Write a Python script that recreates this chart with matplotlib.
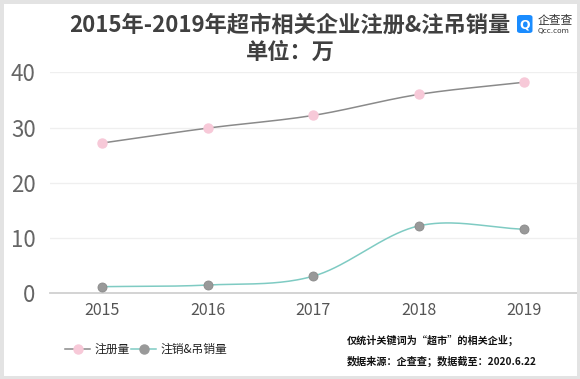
import numpy as np
import matplotlib
matplotlib.use("Agg")
import matplotlib.pyplot as plt
from matplotlib.patches import Rectangle, FancyBboxPatch

plt.rcParams['font.family'] = ['Noto Sans CJK SC', 'DejaVu Sans']

years = ["2015", "2016", "2017", "2018", "2019"]
registered = [27.2, 29.9, 32.2, 36.0, 38.2]
cancelled = [1.2, 1.5, 3.1, 12.2, 11.6]
yticks = [0, 10, 20, 30, 40]
title = "2015年-2019年超市相关企业注册&注吊销量"
subtitle = "单位：万"
legend_labels = ["注册量", "注销&吊销量"]
notes = ["仅统计关键词为“超市”的相关企业；", "数据来源：企查查；数据截至：2020.6.22"]


def smooth(xs, ys, n=40):
    xs = np.asarray(xs, float)
    ys = np.asarray(ys, float)
    m = np.zeros_like(ys)
    m[0] = ys[1] - ys[0]
    m[-1] = ys[-1] - ys[-2]
    m[1:-1] = (ys[2:] - ys[:-2]) / 2.0
    ox, oy = [], []
    for i in range(len(xs) - 1):
        t = np.linspace(0, 1, n)
        h00 = 2 * t**3 - 3 * t**2 + 1
        h10 = t**3 - 2 * t**2 + t
        h01 = -2 * t**3 + 3 * t**2
        h11 = t**3 - t**2
        oy.extend(h00 * ys[i] + h10 * m[i] + h01 * ys[i + 1] + h11 * m[i + 1])
        ox.extend(xs[i] + t * (xs[i + 1] - xs[i]))
    return np.array(ox), np.array(oy)


W, H = 580, 379
fig = plt.figure(figsize=(W / 100, H / 100), dpi=100)
fig.patch.set_facecolor("white")
# outer frame
fig.add_artist(Rectangle((0, 0), 1, 1, transform=fig.transFigure, facecolor="none",
                         edgecolor="#e3e3e3", linewidth=5))

ax = fig.add_axes([49.5 / W, (H - 293.3) / H, (577 - 49.5) / W, (293.3 - 72.3) / H])
x = np.arange(len(years))

sx, sy = smooth(x, registered)
ax.plot(sx, sy, color="#8a8a8a", lw=1.1, zorder=3)
ax.plot(x, registered, linestyle="none", marker="o", ms=6.5, mfc="#f7c9d8", mec="#f7c9d8", zorder=4)

sx2, sy2 = smooth(x, cancelled)
ax.plot(sx2, sy2, color="#7fcbc3", lw=1.1, zorder=3)
ax.plot(x, cancelled, linestyle="none", marker="o", ms=6.5, mfc="#999999", mec="#8a8a8a", mew=0.6, zorder=4)

ax.set_xlim(-0.5, len(years) - 0.5)
ax.set_ylim(0, 40)
ax.set_yticks(yticks)
ax.set_yticklabels([str(v) for v in yticks], fontsize=16, color="#666666")
ax.set_xticks(x)
ax.set_xticklabels(years, fontsize=11.5, color="#555555")
ax.tick_params(axis="both", length=0)
ax.tick_params(axis="y", pad=10)
ax.tick_params(axis="x", pad=6)
ax.grid(axis="y", color="#efefef", lw=0.9)
ax.set_axisbelow(True)
for s in ["top", "right", "left"]:
    ax.spines[s].set_visible(False)
ax.spines["bottom"].set_color("#d0d0d0")
ax.spines["bottom"].set_linewidth(1.3)

# title
fig.text(290 / W, 1 - 25 / H, title, ha="center", va="center", fontsize=16,
         fontweight="bold", color="#404040")
fig.text(290 / W, 1 - 52 / H, subtitle, ha="center", va="center", fontsize=16,
         fontweight="bold", color="#404040")

# logo
logo = FancyBboxPatch((517 / W, 1 - 33 / H), 15.5 / W, 18 / H, boxstyle="round,pad=0,rounding_size=0.006",
                      transform=fig.transFigure, facecolor="#1a8cff", edgecolor="none")
fig.add_artist(logo)
fig.text(524.8 / W, 1 - 24.5 / H, "Q", ha="center", va="center", fontsize=9, fontweight="bold",
         color="white", family=["DejaVu Sans"])
fig.text(538 / W, 1 - 20.5 / H, "企查查", ha="left", va="center", fontsize=8.5, color="#333333")
fig.text(538 / W, 1 - 30.5 / H, "Qcc.com", ha="left", va="center", fontsize=5.3, color="#333333",
         family=["DejaVu Sans"])

# legend
leg_y = 1 - 349 / H
def legend_item(x0, lc, mc, label):
    fig.add_artist(plt.Line2D([x0 / W, (x0 + 25) / W], [leg_y, leg_y], transform=fig.transFigure,
                              color=lc, lw=1.1))
    fig.add_artist(plt.Line2D([(x0 + 12.5) / W], [leg_y], transform=fig.transFigure, marker="o",
                              ms=6.5, mfc=mc, mec=mc, linestyle="none"))
    fig.text((x0 + 29) / W, leg_y, label, ha="left", va="center", fontsize=8.5, color="#222222")

legend_item(65, "#8a8a8a", "#f7c9d8", legend_labels[0])
legend_item(131, "#7fcbc3", "#999999", legend_labels[1])

fig.text(347 / W, 1 - 340 / H, notes[0], ha="left", va="center", fontsize=7.25, fontweight="bold",
         color="#111111")
fig.text(347 / W, 1 - 361 / H, notes[1], ha="left", va="center", fontsize=7.25, fontweight="bold",
         color="#111111")

fig.savefig("out.png", dpi=100)
